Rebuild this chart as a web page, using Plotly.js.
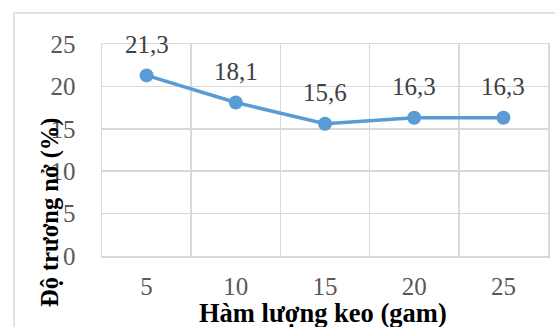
<!DOCTYPE html>
<html>
<head>
<meta charset="utf-8">
<script src="https://cdn.plot.ly/plotly-3.0.1.min.js"></script>
<style>html,body{margin:0;padding:0;background:#fff;}#chart{width:555px;height:327px;}</style>
</head>
<body>
<div id="chart"></div>
<script>
const categories = ['5', '10', '15', '20', '25'];
const values = [21.3, 18.1, 15.6, 16.3, 16.3];
const valueLabels = ['21,3', '18,1', '15,6', '16,3', '16,3'];
const yTickVals = [0, 5, 10, 15, 20, 25];

const font = '"Times New Roman", "Liberation Serif", serif';
const trace = {
  x: categories,
  y: values,
  type: 'scatter',
  mode: 'lines+markers',
  line: {color: '#5B9BD5', width: 3.5},
  marker: {color: '#5B9BD5', size: 14},
  cliponaxis: false,
  hoverinfo: 'none'
};

const labelAnnotations = categories.map((c, i) => ({
  x: i, y: values[i], xref: 'x', yref: 'y',
  text: valueLabels[i], showarrow: false,
  yshift: 31, xanchor: 'center', yanchor: 'middle',
  font: {family: font, size: 25, color: '#404040'}
}));

const layout = {
  width: 555, height: 327,
  margin: {l: 102, r: 7, t: 44, b: 71},
  paper_bgcolor: '#fff', plot_bgcolor: '#fff',
  showlegend: false,
  xaxis: {
    type: 'category',
    range: [-0.5, 4.5],
    tickson: 'boundaries',
    showgrid: true, gridcolor: '#d9d9d9', gridwidth: 1.5,
    showline: true, linecolor: '#d9d9d9', linewidth: 1.5, mirror: true,
    ticks: '',
    ticklabelstandoff: 7,
    tickfont: {family: font, size: 25, color: '#595959'},
    zeroline: false
  },
  yaxis: {
    range: [0, 25],
    tickvals: yTickVals,
    showgrid: true, gridcolor: '#d9d9d9', gridwidth: 1.5,
    showline: true, linecolor: '#d9d9d9', linewidth: 1.5, mirror: true,
    ticks: '',
    ticklabelstandoff: 20,
    tickfont: {family: font, size: 25, color: '#595959'},
    zeroline: false
  },
  shapes: [{
    type: 'rect', xref: 'paper', yref: 'paper',
    x0: (14 - 102) / 446, x1: 1.05, y0: -0.5, y1: (256 - 13) / 212,
    line: {color: '#d9d9d9', width: 1.5}, layer: 'below'
  }],
  annotations: labelAnnotations.concat([
    {
      text: '<b>Hàm lượng keo (gam)</b>', xref: 'paper', yref: 'paper',
      x: (323 - 102) / 446, y: (256 - 313) / 212, showarrow: false,
      xanchor: 'center', yanchor: 'middle',
      font: {family: font, size: 26.5, color: '#000'}
    },
    {
      text: '<b>Độ trương nở (%)</b>', xref: 'paper', yref: 'paper',
      x: (50 - 102) / 446, y: (256 - 212) / 212, showarrow: false,
      textangle: -90, xanchor: 'center', yanchor: 'middle',
      font: {family: font, size: 24.5, color: '#000'}
    }
  ])
};

Plotly.newPlot('chart', [trace], layout, {staticPlot: true, displayModeBar: false});
</script>
</body>
</html>
